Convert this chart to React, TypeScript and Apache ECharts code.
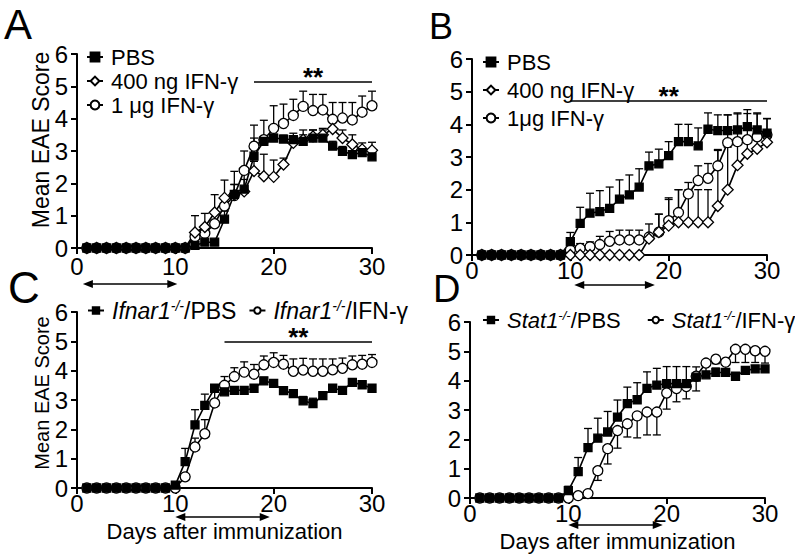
import React, { useEffect, useRef } from 'react';
import * as echarts from 'echarts';

const FONT = '"Liberation Sans", Arial, sans-serif';

const days = [1, 2, 3, 4, 5, 6, 7, 8, 9, 10, 11, 12, 13, 14, 15, 16, 17, 18, 19, 20, 21, 22, 23, 24, 25, 26, 27, 28, 29, 30];
const xTicks = [0, 10, 20, 30];
const yTicks = [0, 1, 2, 3, 4, 5, 6];

// Panel A
const aPBS = [0, 0, 0, 0, 0, 0, 0, 0, 0, 0, 0, 0.08, 0.18, 0.18, 0.89, 1.66, 1.82, 2.84, 3.3, 3.4, 3.37, 3.35, 3.3, 3.4, 3.4, 3.15, 2.99, 2.89, 2.95, 2.82];
const aPBSErr = [0, 0, 0, 0, 0, 0, 0, 0, 0, 0, 0, 0, 0, 0, 0.25, 0.3, 0.3, 0.56, 0.15, 0.12, 0.12, 0.2, 0.35, 0.25, 0.3, 0.15, 0.15, 0.12, 0.12, 0.1];
const a400 = [0, 0, 0, 0, 0, 0, 0, 0, 0, 0, 0, 0.48, 0.65, 1.1, 1.55, 1.65, 1.75, 2.38, 2.22, 2.2, 2.58, 3.25, 3.35, 3.45, 3.5, 3.68, 3.4, 3.2, 3.05, 3.02];
const a400Err = [0, 0, 0, 0, 0, 0, 0, 0, 0, 0, 0, 0.52, 0.42, 0.55, 0.55, 0.72, 0.55, 0.3, 0.68, 0.52, 0.2, 0.15, 0.15, 0.2, 0.15, 0.2, 0.25, 0.3, 0.2, 0.25];
const a1ug = [0, 0, 0, 0, 0, 0, 0, 0, 0, 0, 0, 0.35, 0.45, 0.75, 1.3, 1.62, 2.4, 3.15, 3.35, 3.7, 3.85, 4.1, 4.38, 4.25, 4.27, 3.98, 4.02, 3.96, 4.2, 4.4];
const a1ugErr = [0, 0, 0, 0, 0, 0, 0, 0, 0, 0, 0, 0.1, 0.25, 0.3, 0.3, 0.35, 0.6, 0.65, 0.6, 0.7, 0.6, 0.5, 0.47, 0.5, 0.48, 0.52, 0.48, 0.54, 0.5, 0.45];

// Panel B
const bPBS = [0, 0, 0, 0, 0, 0, 0, 0, 0, 0.41, 0.97, 1.28, 1.33, 1.43, 1.71, 1.84, 2.08, 2.73, 2.79, 3.04, 3.47, 3.47, 3.34, 3.85, 3.81, 3.81, 3.83, 3.93, 3.83, 3.73];
const bPBSErr = [0, 0, 0, 0, 0, 0, 0, 0, 0, 0.28, 0.49, 0.61, 0.64, 0.65, 0.59, 0.61, 0.56, 0.42, 0.45, 0.43, 0.53, 0.53, 0.55, 0.5, 0.48, 0.48, 0.52, 0.52, 0.52, 0.44];
const b400 = [0, 0, 0, 0, 0, 0, 0, 0, 0, 0, 0, 0, 0, 0, 0, 0, 0, 0.5, 0.7, 0.9, 1.0, 1.0, 1.0, 1.0, 1.5, 2.0, 2.75, 3.1, 3.25, 3.45];
const b400Err = [0, 0, 0, 0, 0, 0, 0, 0, 0, 0, 0, 0, 0, 0, 0, 0, 0, 0, 0.55, 0.8, 1.0, 1.0, 1.0, 1.0, 1.7, 1.3, 0.8, 0.5, 0.45, 0.3];
const b1ug = [0, 0, 0, 0, 0, 0, 0, 0, 0, 0.15, 0.2, 0.25, 0.32, 0.42, 0.46, 0.46, 0.46, 0.55, 0.7, 1.05, 1.3, 1.87, 2.28, 2.35, 2.73, 3.44, 3.47, 3.53, 3.62, 3.68];
const b1ugErr = [0, 0, 0, 0, 0, 0, 0, 0, 0, 0, 0.15, 0.15, 0.25, 0.3, 0.3, 0.3, 0.3, 0.4, 0.55, 0.7, 0.7, 0.35, 0.45, 0.45, 0.5, 0.85, 0.85, 0.8, 0.7, 0.5];

// Panel C
const cPBS = [0, 0, 0, 0, 0, 0, 0, 0, 0, 0.1, 0.9, 2.15, 2.82, 3.4, 3.28, 3.33, 3.33, 3.4, 3.65, 3.57, 3.32, 3.22, 2.97, 2.88, 3.15, 3.4, 3.33, 3.6, 3.52, 3.4];
const cPBSErr = [0, 0, 0, 0, 0, 0, 0, 0, 0, 0.08, 0.45, 0.52, 0.38, 0.12, 0.08, 0.05, 0.05, 0.08, 0.12, 0.1, 0.12, 0.12, 0.15, 0.18, 0.08, 0.05, 0.05, 0.05, 0.05, 0.05];
const cIFN = [0, 0, 0, 0, 0, 0, 0, 0, 0, 0, 0.38, 1.4, 1.85, 2.9, 3.5, 3.8, 3.95, 3.88, 4.2, 4.28, 4.22, 3.98, 4.02, 3.98, 3.98, 4.03, 4.08, 4.2, 4.22, 4.28];
const cIFNErr = [0, 0, 0, 0, 0, 0, 0, 0, 0, 0, 0, 0.3, 0.48, 0.45, 0.3, 0.3, 0.35, 0.33, 0.3, 0.33, 0.3, 0.42, 0.4, 0.42, 0.42, 0.37, 0.35, 0.3, 0.3, 0.27];

// Panel D
const dPBS = [0, 0, 0, 0, 0, 0, 0, 0, 0, 0.25, 0.9, 1.72, 2.04, 2.25, 2.76, 3.22, 3.35, 3.74, 3.85, 3.9, 3.9, 3.9, 4.12, 4.2, 4.28, 4.28, 4.15, 4.35, 4.4, 4.4];
const dPBSErr = [0, 0, 0, 0, 0, 0, 0, 0, 0, 0.15, 0.48, 0.65, 0.68, 0.7, 0.58, 0.56, 0.58, 0.56, 0.57, 0.58, 0.58, 0.58, 0.35, 0.3, 0.15, 0.1, 0.1, 0.1, 0.1, 0.1];
const dIFN = [0, 0, 0, 0, 0, 0, 0, 0, 0, 0, 0.08, 0.15, 0.93, 1.68, 2.3, 2.53, 2.8, 2.93, 2.93, 3.58, 3.73, 3.8, 4.15, 4.6, 4.73, 4.63, 5.07, 5.07, 5.02, 5.0];
const dIFNErr = [0, 0, 0, 0, 0, 0, 0, 0, 0, 0, 0, 0, 0.33, 0.52, 0.6, 0.45, 0.75, 0.78, 0.78, 0.55, 0.45, 0.42, 0.5, 0.1, 0.15, 0.1, 0.45, 0.45, 0.4, 0.4];

// significance bars: [from day, to day, level]
const sigA = [18, 30, 5.14];
const sigB = [10, 30, 4.72];
const sigC = [15, 30, 4.98];

// treatment windows (days) drawn as double arrows under the x axis
const arrowA = [0.6, 10.2];
const arrowB = [10.4, 18.6];
const arrowC = [10.0, 19.6];
const arrowD = [10.0, 19.6];

const grids = [
  { left: 77, top: 54, width: 295, height: 194 },
  { left: 472, top: 59, width: 295, height: 196 },
  { left: 77, top: 312, width: 295, height: 176 },
  { left: 470, top: 322, width: 295, height: 176 },
];

function errRender(params: any, api: any) {
  const x = api.value(0);
  const p0 = api.coord([x, api.value(1)]);
  const p1 = api.coord([x, api.value(2)]);
  const hw = 4;
  return {
    type: 'group',
    children: [
      { type: 'line', shape: { x1: p0[0], y1: p0[1], x2: p1[0], y2: p1[1] }, style: { stroke: '#000', lineWidth: 1.3 } },
      { type: 'line', shape: { x1: p1[0] - hw, y1: p1[1], x2: p1[0] + hw, y2: p1[1] }, style: { stroke: '#000', lineWidth: 1.3 } },
    ],
  };
}

function errSeries(g: number, vals: number[], errs: number[], dir: number) {
  const data: number[][] = [];
  vals.forEach((v, i) => {
    const e = errs[i];
    if (e > 0) data.push([days[i], v, dir > 0 ? v + e : v - e]);
  });
  return {
    type: 'custom',
    xAxisIndex: g,
    yAxisIndex: g,
    data,
    z: 2,
    silent: true,
    renderItem: errRender,
    encode: { x: 0, y: [1, 2] },
  };
}

function lineSeries(name: string, g: number, vals: number[], symbol: string, filled: boolean, size: number, sig?: number[]) {
  const s: any = {
    type: 'line',
    name,
    xAxisIndex: g,
    yAxisIndex: g,
    data: days.map((d, i) => [d, vals[i]]),
    symbol,
    symbolSize: size,
    showSymbol: true,
    z: 3,
    silent: true,
    lineStyle: { color: '#000', width: 1.6 },
    itemStyle: { color: filled ? '#000' : '#fff', borderColor: '#000', borderWidth: 1.3 },
  };
  if (sig) {
    s.markLine = {
      silent: true,
      symbol: ['none', 'none'],
      lineStyle: { color: '#000', width: 1.5, type: 'solid' },
      label: { show: true, position: 'middle', formatter: '**', fontSize: 26, fontWeight: 'bold', color: '#000', fontFamily: FONT, distance: -8 },
      data: [[{ coord: [sig[0], sig[2]] }, { coord: [sig[1], sig[2]] }]],
    };
  }
  return s;
}

function arrow(g: number, range: number[], y: number) {
  const gr = grids[g];
  const x1 = gr.left + (range[0] / 30) * gr.width;
  const x2 = gr.left + (range[1] / 30) * gr.width;
  return [
    { type: 'line', shape: { x1: x1 + 6, y1: y, x2: x2 - 6, y2: y }, style: { stroke: '#000', lineWidth: 1.6 } },
    { type: 'polygon', shape: { points: [[x1, y], [x1 + 10, y - 4], [x1 + 10, y + 4]] }, style: { fill: '#000' } },
    { type: 'polygon', shape: { points: [[x2, y], [x2 - 10, y - 4], [x2 - 10, y + 4]] }, style: { fill: '#000' } },
  ];
}

function makeRich(size: number, supSize: number) {
  return {
    it: { fontStyle: 'italic', fontSize: size, fontFamily: FONT, color: '#000' },
    sup: { fontStyle: 'italic', fontSize: supSize, fontFamily: FONT, color: '#000', verticalAlign: 'top', lineHeight: 13 },
    n: { fontSize: size, fontFamily: FONT, color: '#000' },
  };
}

function legendFmt(name: string) {
  if (name.indexOf('-/-') >= 0) {
    const parts = name.split('-/-');
    return '{it|' + parts[0] + '}{sup|-/-}{n|' + parts[1] + '}';
  }
  return '{n|' + name + '}';
}

function makeLegend(left: number, top: number, orient: string, itemGap: number, itemHeight: number, size: number, supSize: number, data: string[]) {
  return {
    left,
    top,
    width: 330,
    orient,
    itemGap,
    itemWidth: 16,
    itemHeight,
    selectedMode: false,
    padding: 0,
    data,
    formatter: legendFmt,
    textStyle: { fontSize: size, fontFamily: FONT, color: '#000', padding: [0, 0, 0, 3], rich: makeRich(size, supSize) },
  };
}

function xAxis(g: number, withName: boolean, margin: number) {
  return {
    type: 'value',
    gridIndex: g,
    min: 0,
    max: 30,
    interval: 10,
    name: withName ? 'Days after immunization' : '',
    nameLocation: 'middle',
    nameGap: 32,
    nameTextStyle: { fontSize: 22, fontFamily: FONT, color: '#000' },
    axisLine: { show: true, onZero: false, lineStyle: { color: '#000', width: 2 } },
    axisTick: { show: true, inside: false, length: 6, lineStyle: { color: '#000', width: 2 } },
    axisLabel: { fontSize: 24, fontFamily: FONT, color: '#000', margin, formatter: (v: number) => (xTicks.indexOf(v) >= 0 ? String(v) : '') },
    splitLine: { show: false },
  };
}

function yAxis(g: number) {
  return {
    type: 'value',
    gridIndex: g,
    min: 0,
    max: 6,
    interval: 1,
    axisLine: { show: true, onZero: false, lineStyle: { color: '#000', width: 2 } },
    axisTick: { show: true, inside: false, length: 6, lineStyle: { color: '#000', width: 2 } },
    axisLabel: { fontSize: 24, fontFamily: FONT, color: '#000', margin: 9, formatter: (v: number) => (yTicks.indexOf(v) >= 0 ? String(v) : '') },
    splitLine: { show: false },
  };
}

function letter(t: string, x: number, y: number, size: number) {
  return { type: 'text', x, y, style: { text: t, fontSize: size, fontFamily: FONT, fill: '#000', verticalAlign: 'middle', align: 'left' } };
}

function yTitle(x: number, y: number, size: number) {
  return {
    type: 'text',
    x,
    y,
    rotation: Math.PI / 2,
    style: { text: 'Mean EAE Score', fontSize: size, fontFamily: FONT, fill: '#000', align: 'center', verticalAlign: 'middle' },
  };
}

export default function App() {
  const ref = useRef<HTMLDivElement>(null);
  useEffect(() => {
    if (!ref.current) return;
    const chart = echarts.init(ref.current, undefined, { renderer: 'svg' });
    const option: any = {
      animation: false,
      backgroundColor: '#fff',
      grid: grids,
      xAxis: [xAxis(0, false, 6), xAxis(1, false, 3), xAxis(2, true, 3), xAxis(3, true, 3)],
      yAxis: [yAxis(0), yAxis(1), yAxis(2), yAxis(3)],
      legend: [
        makeLegend(86, 46, 'vertical', 2, 11, 22, 13, ['PBS', '400 ng IFN-γ', '1 μg IFN-γ']),
        makeLegend(482, 51, 'vertical', 6, 11, 22, 13, ['PBS', '400 ng IFN-γ', '1μg IFN-γ']),
        makeLegend(87, 299, 'horizontal', 12, 8, 23, 14, ['Ifnar1-/-/PBS', 'Ifnar1-/-/IFN-γ']),
        makeLegend(482, 309, 'horizontal', 26, 8, 22, 13, ['Stat1-/-/PBS', 'Stat1-/-/IFN-γ']),
      ],
      graphic: [
        letter('A', 4, 24, 42),
        letter('B', 429, 26, 36),
        letter('C', 8, 287, 44),
        letter('D', 433, 289, 38),
        yTitle(41, 140, 23),
        yTitle(42, 393, 20),
        ...arrow(0, arrowA, 284),
        ...arrow(1, arrowB, 285),
        ...arrow(2, arrowC, 517),
        ...arrow(3, arrowD, 525),
      ],
      series: [
        errSeries(0, a1ug, a1ugErr, 1),
        errSeries(0, a400, a400Err, 1),
        errSeries(0, aPBS, aPBSErr, 1),
        lineSeries('1 μg IFN-γ', 0, a1ug, 'circle', false, 10),
        lineSeries('400 ng IFN-γ', 0, a400, 'diamond', false, 11),
        lineSeries('PBS', 0, aPBS, 'rect', true, 8, sigA),

        errSeries(1, b1ug, b1ugErr, 1),
        errSeries(1, b400, b400Err, 1),
        errSeries(1, bPBS, bPBSErr, 1),
        lineSeries('1μg IFN-γ', 1, b1ug, 'circle', false, 10),
        lineSeries('400 ng IFN-γ', 1, b400, 'diamond', false, 11),
        lineSeries('PBS', 1, bPBS, 'rect', true, 8, sigB),

        errSeries(2, cIFN, cIFNErr, 1),
        errSeries(2, cPBS, cPBSErr, 1),
        lineSeries('Ifnar1-/-/IFN-γ', 2, cIFN, 'circle', false, 10),
        lineSeries('Ifnar1-/-/PBS', 2, cPBS, 'rect', true, 8, sigC),

        errSeries(3, dIFN, dIFNErr, -1),
        errSeries(3, dPBS, dPBSErr, 1),
        lineSeries('Stat1-/-/IFN-γ', 3, dIFN, 'circle', false, 10),
        lineSeries('Stat1-/-/PBS', 3, dPBS, 'rect', true, 8),
      ],
    };
    chart.setOption(option);
    return () => chart.dispose();
  }, []);
  return <div ref={ref} style={{ width: 795, height: 557, position: 'absolute', left: 0, top: 0 }} />;
}
